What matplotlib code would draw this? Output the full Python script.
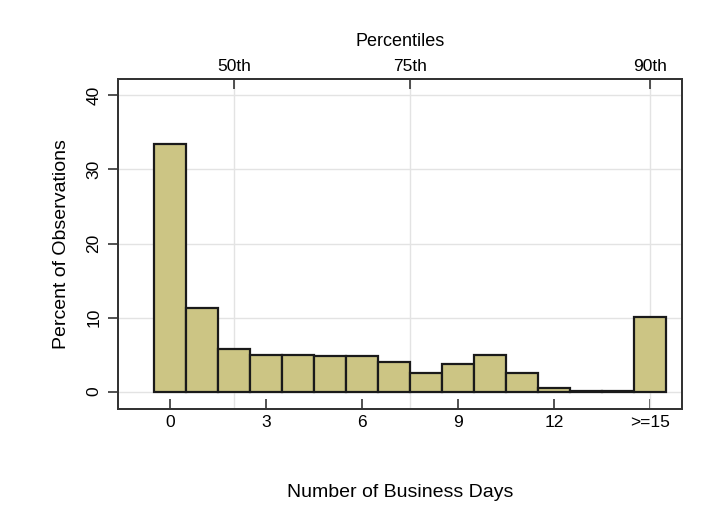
import matplotlib
matplotlib.use("Agg")
import matplotlib.pyplot as plt

plt.rcParams['font.family'] = ['Liberation Sans', 'DejaVu Sans']

# histogram data (percent of observations by business days)
days = [0, 1, 2, 3, 4, 5, 6, 7, 8, 9, 10, 11, 12, 13, 14, 15]
pct = [33.45, 11.3, 5.75, 4.9, 5.0, 4.85, 4.85, 3.95, 2.5, 3.7, 4.9, 2.5, 0.45, 0.08, 0.08, 10.05]

xticks = [0, 3, 6, 9, 12, 15]
xticklabels = ['0', '3', '6', '9', '12', '>=15']
yticks = [0, 10, 20, 30, 40]

pctl_pos = [2, 7.5, 15]
pctl_labels = ['50th', '75th', '90th']

fig = plt.figure(figsize=(7.03, 5.07), dpi=100)
ax = fig.add_axes([0.168, 0.193, 0.802, 0.651])

ax.bar(days, pct, width=1, color='#ccc584', edgecolor='#1a1a1a', linewidth=1.6, zorder=3)

for p in pctl_pos:
    ax.axvline(p, color='#e3e3e3', linewidth=1, zorder=1)
ax.set_yticks(yticks)
ax.yaxis.grid(True, color='#e3e3e3', linewidth=1, zorder=1)
ax.set_axisbelow(True)

ax.set_xlim(-1.625, 16.0)
ax.set_ylim(-2.36, 42.2)

ax.set_xticks(xticks)
ax.set_xticklabels(xticklabels)
ax.tick_params(axis='x', direction='in', length=7, width=1.2, labelsize=12.5, pad=4, color='#333333')
ax.tick_params(axis='y', direction='out', length=7, width=1.2, labelsize=12.5, pad=5, color='#333333')
for lab in ax.get_yticklabels():
    lab.set_rotation(90)
    lab.set_va('center')

for s in ax.spines.values():
    s.set_linewidth(1.3)
    s.set_color('#333333')

ax.set_xlabel('Number of Business Days', fontsize=14, labelpad=39)
ax.set_ylabel('Percent of Observations', fontsize=14, labelpad=12)

ax2 = ax.twiny()
ax2.set_xlim(ax.get_xlim())
ax2.set_xticks(pctl_pos)
ax2.set_xticklabels(pctl_labels)
ax2.tick_params(axis='x', direction='in', length=7, width=1.2, labelsize=12.5, pad=4, color='#333333')
ax2.set_xlabel('Percentiles', fontsize=13, labelpad=9)
for s in ax2.spines.values():
    s.set_linewidth(1.3)
    s.set_color('#333333')

fig.savefig('out.png', dpi=100, facecolor='white')
